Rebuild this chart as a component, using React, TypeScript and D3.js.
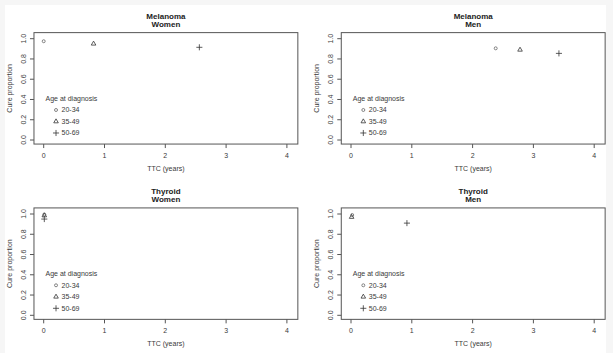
import React, { useEffect, useRef } from "react";
import * as d3 from "d3";

const ageGroups = ["20-34", "35-49", "50-69"];
const xTicks = [0, 1, 2, 3, 4];
const yTicks = [0, 0.2, 0.4, 0.6, 0.8, 1.0];

const panelTitles = [
  ["Melanoma", "Women"],
  ["Melanoma", "Men"],
  ["Thyroid", "Women"],
  ["Thyroid", "Men"],
];

// TTC (years) per age group, per panel
const ttcValues = [
  [0.0, 0.82, 2.56],
  [2.38, 2.78, 3.42],
  [0.01, 0.01, 0.01],
  [0.02, 0.01, 0.92],
];

// cure proportion per age group, per panel
const cureValues = [
  [0.975, 0.95, 0.915],
  [0.905, 0.89, 0.855],
  [0.995, 0.985, 0.95],
  [0.99, 0.97, 0.91],
];

const App = () => {
  const ref = useRef<SVGSVGElement>(null);

  useEffect(() => {
    document.body.style.margin = "0";
    const svg = d3.select(ref.current);
    svg.selectAll("*").remove();

    const W = 613;
    const H = 353;
    svg.append("rect").attr("width", W).attr("height", H).attr("fill", "#f6f6f6");
    svg.append("rect").attr("x", 5).attr("y", 5).attr("width", 601).attr("height", H - 5).attr("fill", "#fff");

    const font = "Liberation Sans, Arial, sans-serif";
    const lineCol = "#555";
    const textCol = "#3a3a3a";

    const shapes = [d3.symbolCircle, d3.symbolTriangle2, d3.symbolPlus];
    const sizes = [7, 15, 14];

    panelTitles.forEach((title, i) => {
      const col = i % 2;
      const row = Math.floor(i / 2);
      const x0 = 43.7 + col * 307.3;
      const y0 = 140 + row * 175.3;
      const unitX = 60.8;
      const unitY = 101.3;

      const x = d3.scaleLinear().domain([0, 4]).range([x0, x0 + 4 * unitX]);
      const y = d3.scaleLinear().domain([0, 1]).range([y0, y0 - unitY]);

      const g = svg.append("g");

      // box
      const bx1 = x(-0.16), bx2 = x(4.18);
      const by1 = y(1.06), by2 = y(-0.04);
      g.append("rect")
        .attr("x", bx1)
        .attr("y", by1)
        .attr("width", bx2 - bx1)
        .attr("height", by2 - by1)
        .attr("fill", "none")
        .attr("stroke", lineCol)
        .attr("stroke-width", 1);

      // x axis
      const xa = g.append("g").attr("transform", `translate(0,${by2})`);
      xTicks.forEach((t) => {
        xa.append("line").attr("x1", x(t)).attr("x2", x(t)).attr("y1", 0).attr("y2", 4).attr("stroke", lineCol);
        xa.append("text")
          .attr("x", x(t))
          .attr("y", 14)
          .attr("text-anchor", "middle")
          .attr("font-size", 7)
          .attr("font-family", font)
          .attr("fill", textCol)
          .text(d3.format("d")(t));
      });

      // y axis
      const ya = g.append("g").attr("transform", `translate(${bx1},0)`);
      yTicks.forEach((t) => {
        ya.append("line").attr("x1", 0).attr("x2", -4).attr("y1", y(t)).attr("y2", y(t)).attr("stroke", lineCol);
        ya.append("text")
          .attr("transform", `translate(-8,${y(t)}) rotate(-90)`)
          .attr("text-anchor", "middle")
          .attr("font-size", 7)
          .attr("font-family", font)
          .attr("fill", textCol)
          .text(d3.format(".1f")(t));
      });

      // titles
      const cx = (bx1 + bx2) / 2;
      g.append("text")
        .attr("x", cx)
        .attr("y", by1 - 14)
        .attr("text-anchor", "middle")
        .attr("font-size", 8)
        .attr("font-weight", "bold")
        .attr("font-family", font)
        .attr("fill", "#222")
        .text(title[0]);
      g.append("text")
        .attr("x", cx)
        .attr("y", by1 - 6)
        .attr("text-anchor", "middle")
        .attr("font-size", 8)
        .attr("font-weight", "bold")
        .attr("font-family", font)
        .attr("fill", "#222")
        .text(title[1]);

      g.append("text")
        .attr("x", cx)
        .attr("y", by2 + 27)
        .attr("text-anchor", "middle")
        .attr("font-size", 7)
        .attr("font-family", font)
        .attr("fill", textCol)
        .text("TTC (years)");

      g.append("text")
        .attr("transform", `translate(${bx1 - 22},${(by1 + by2) / 2}) rotate(-90)`)
        .attr("text-anchor", "middle")
        .attr("font-size", 7)
        .attr("font-family", font)
        .attr("fill", textCol)
        .text("Cure proportion");

      // points
      ageGroups.forEach((_, k) => {
        g.append("path")
          .attr("d", d3.symbol().type(shapes[k]).size(sizes[k])())
          .attr("transform", `translate(${x(ttcValues[i][k])},${y(cureValues[i][k])})`)
          .attr("fill", "none")
          .attr("stroke", k === 0 ? "#666" : "#333")
          .attr("stroke-width", 0.8);
      });

      // legend
      const lx = x(0.03);
      const ly = y(0.385);
      g.append("text")
        .attr("x", lx)
        .attr("y", ly)
        .attr("font-size", 7)
        .attr("font-family", font)
        .attr("fill", textCol)
        .text("Age at diagnosis");
      ageGroups.forEach((a, k) => {
        const yy = ly + 11.5 * (k + 1);
        g.append("path")
          .attr("d", d3.symbol().type(shapes[k]).size(sizes[k])())
          .attr("transform", `translate(${lx + 10.5},${yy - 2.5})`)
          .attr("fill", "none")
          .attr("stroke", k === 0 ? "#666" : "#333")
          .attr("stroke-width", 0.8);
        g.append("text")
          .attr("x", lx + 16)
          .attr("y", yy)
          .attr("font-size", 7)
          .attr("font-family", font)
          .attr("fill", textCol)
          .text(a);
      });
    });
  }, []);

  return (
    <svg
      ref={ref}
      width={613}
      height={353}
      style={{ position: "absolute", left: 0, top: 0, display: "block" }}
    />
  );
};

export default App;
